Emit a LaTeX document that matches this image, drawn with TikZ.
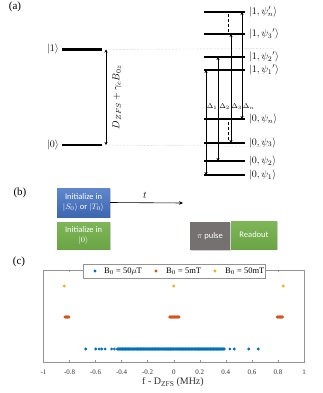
\documentclass[tikz,border=0pt]{standalone}
\usepackage{fontspec}
\setmainfont{Liberation Serif}
\newfontfamily\boxfont{Carlito}
\usetikzlibrary{arrows.meta,positioning,shadows}
\definecolor{mblue}{RGB}{0,114,189}
\definecolor{morange}{RGB}{217,83,25}
\definecolor{myellow}{RGB}{237,177,32}
\definecolor{boxblue}{RGB}{68,114,196}
\definecolor{boxgreen}{RGB}{112,173,71}
\definecolor{boxgray}{RGB}{118,113,113}

\begin{document}
\begin{tikzpicture}[x=1pt,y=-1pt,
    level/.style={line width=2.6pt},
    trans/.style={{Stealth[length=3pt,width=3pt]}-{Stealth[length=3pt,width=3pt]},line width=0.6pt},
    guide/.style={densely dotted,gray!60,line width=0.4pt},
    statelab/.style={font=\fontsize{10}{11}\selectfont,inner sep=1pt},
    panellab/.style={font=\fontsize{11}{12}\selectfont,inner sep=0pt},
    gaplab/.style={font=\fontsize{7}{8}\selectfont,inner sep=0pt},
    seqbox/.style={text=white,align=center,inner sep=0pt,font=\boxfont\fontsize{8.5}{10}\selectfont,
      drop shadow={shadow xshift=0.7pt,shadow yshift=-0.7pt,opacity=0.35}},
    axisline/.style={draw=gray!85,line width=0.45pt},
    ticklab/.style={font=\fontsize{7}{8}\selectfont,text=black!80,inner sep=0pt},
    legtext/.style={font=\fontsize{8.5}{9}\selectfont,anchor=west,inner sep=0pt},
    dot/.style={radius=1.6pt}]
  \useasboundingbox (0,0) rectangle (322,393);

  % (a) levels
  \node[panellab] at (15,7) {(a)};
  \draw[level] (62,49.5) coordinate (one) -- (102,49.5) coordinate (oneR);
  \draw[level] (62,145) coordinate (zero) -- (102,145) coordinate (zeroR);
  \node[statelab,left=2pt of one] (onelab) {$|1\rangle$};
  \node[statelab,left=2pt of zero] (zerolab) {$|0\rangle$};
  \draw[trans] ([xshift=4pt]oneR) -- ([xshift=4pt]zeroR);
  \node[statelab,rotate=90] (dzfs) at (117,97) {$D_{ZFS}+\gamma_e B_{0z}$};
  \coordinate (gtop) at (272,48.5);
  \coordinate (gbot) at (272,146.5);
  \draw[guide] ([xshift=3pt]oneR) -- (gtop);
  \draw[guide] ([xshift=3pt]zeroR) -- (gbot);

  \foreach \n/\y/\lab in {un/12/{1,\psi_n'},u3/34/{1,\psi_3{}'},u2/57/{1,\psi_2{}'},u1/70/{1,\psi_1{}'},
      gn/119/{0,\psi_n},g3/143/{0,\psi_3},g2/161/{0,\psi_2},g1/175/{0,\psi_1}}{
    \draw[level] (204,\y) coordinate (\n) -- (245,\y) coordinate (\n R);
    \node[statelab,right=3pt of \n R] (\n lab) {$|\lab\rangle$};
  }
  \draw[trans] ([xshift=2pt]u1) -- ([xshift=2pt]g1);
  \draw[trans] ([xshift=14pt]u2) -- ([xshift=14pt]g2);
  \draw[trans] ([xshift=27pt]u3) -- ([xshift=27pt]g3);
  \draw[trans] ([xshift=38pt]un) -- ([xshift=38pt]gn);
  \draw[densely dashed,line width=0.4pt] ([xshift=24pt,yshift=-2pt]un) -- ([xshift=24pt,yshift=2pt]u3);
  \draw[densely dashed,line width=0.4pt] ([xshift=24pt,yshift=-3pt]gn) -- ([xshift=24pt,yshift=2pt]g3);
  \node[gaplab] (d1) at (212,107) {$\Delta_1$};
  \node[gaplab] (d2) at (224.5,107) {$\Delta_2$};
  \node[gaplab] (d3) at (236.5,107) {$\Delta_3$};
  \node[gaplab] (dn) at (248.5,107) {$\Delta_n$};

  % (b) sequence
  \node[panellab] at (20,193) {(b)};
  \node[seqbox,top color=boxblue!85!white,bottom color=boxblue!90!black,minimum width=53pt,minimum height=29pt]
    (initS) at (83.5,202.5) {Initialize in\\$|S_0\rangle$ or $|T_0\rangle$};
  \node[seqbox,top color=boxgreen!90!white,bottom color=boxgreen!95!black,minimum width=53pt,minimum height=27pt]
    (initZ) at (83.5,235.5) {Initialize in\\$|0\rangle$};
  \node[seqbox,fill=boxgray,minimum width=40pt,minimum height=28pt] (pipulse) at (210,236) {$\pi$ pulse};
  \node[seqbox,top color=boxgreen!90!white,bottom color=boxgreen!95!black,minimum width=46pt,minimum height=28pt]
    (readout) at (254,235) {Readout};
  \coordinate (tend) at (183,203);
  \draw[-{Stealth[length=4pt,width=3.5pt]},line width=0.6pt] (initS.east) -- (tend);
  \node[statelab] (tlab) at (145,195) {$t$};

  % (c) spectrum
  \node[panellab] at (19,262) {(c)};
  \begin{scope}[shift={(173.75,0)},x=130.25pt]
    \draw[axisline] (-1,270) rectangle (1,362);
    \foreach \i in {-4,...,4}{
      \draw[axisline] (\i/5,362) -- (\i/5,360);
      \draw[axisline] (\i/5,270) -- (\i/5,272);
    }
    \foreach \t/\lab in {-1/-1,-0.8/-0.8,-0.6/-0.6,-0.4/-0.4,-0.2/-0.2,0/0,0.2/0.2,0.4/0.4,0.6/0.6,0.8/0.8,1/1}
      \node[ticklab] at (\t,372) {\lab};
    \foreach \v in {-0.84,0,0.84}
      \fill[myellow] (\v,286) circle[dot];
    \foreach \v in {-0.835,-0.83,...,-0.80}
      \fill[morange] (\v,317) circle[dot];
    \foreach \v in {-0.03,-0.025,...,0.045}
      \fill[morange] (\v,317) circle[dot];
    \foreach \v in {0.795,0.80,...,0.84}
      \fill[morange] (\v,317) circle[dot];
    \foreach \v in {-0.676,-0.599,-0.573,-0.553,-0.527,-0.477,-0.456,0.431,0.464,0.576,0.648}
      \fill[mblue] (\v,349) circle[dot];
    \foreach \v in {-0.433,-0.428,...,0.392}
      \fill[mblue] (\v,349) circle[dot];
  \end{scope}
  \node[font=\fontsize{10}{11}\selectfont,text=black!80,inner sep=0pt] (xlab) at (173,382)
    {f - D\raisebox{-2.4pt}{\fontsize{7.5}{8}\selectfont ZFS} (MHz)};

  % legend
  \node[draw=gray!85,fill=white,line width=0.45pt,minimum width=182pt,minimum height=14pt,inner sep=0pt] (legend) at (174,271) {};
  \fill[mblue] (95,271) circle[dot];
  \fill[morange] (156,271) circle[dot];
  \fill[myellow] (215,271) circle[dot];
  \node[legtext] (lega) at (104,271) {B$_0$ = 50$\mu$T};
  \node[legtext] (legb) at (166,271) {B$_0$ = 5mT};
  \node[legtext] (legc) at (225,271) {B$_0$ = 50mT};
\end{tikzpicture}
\end{document}
